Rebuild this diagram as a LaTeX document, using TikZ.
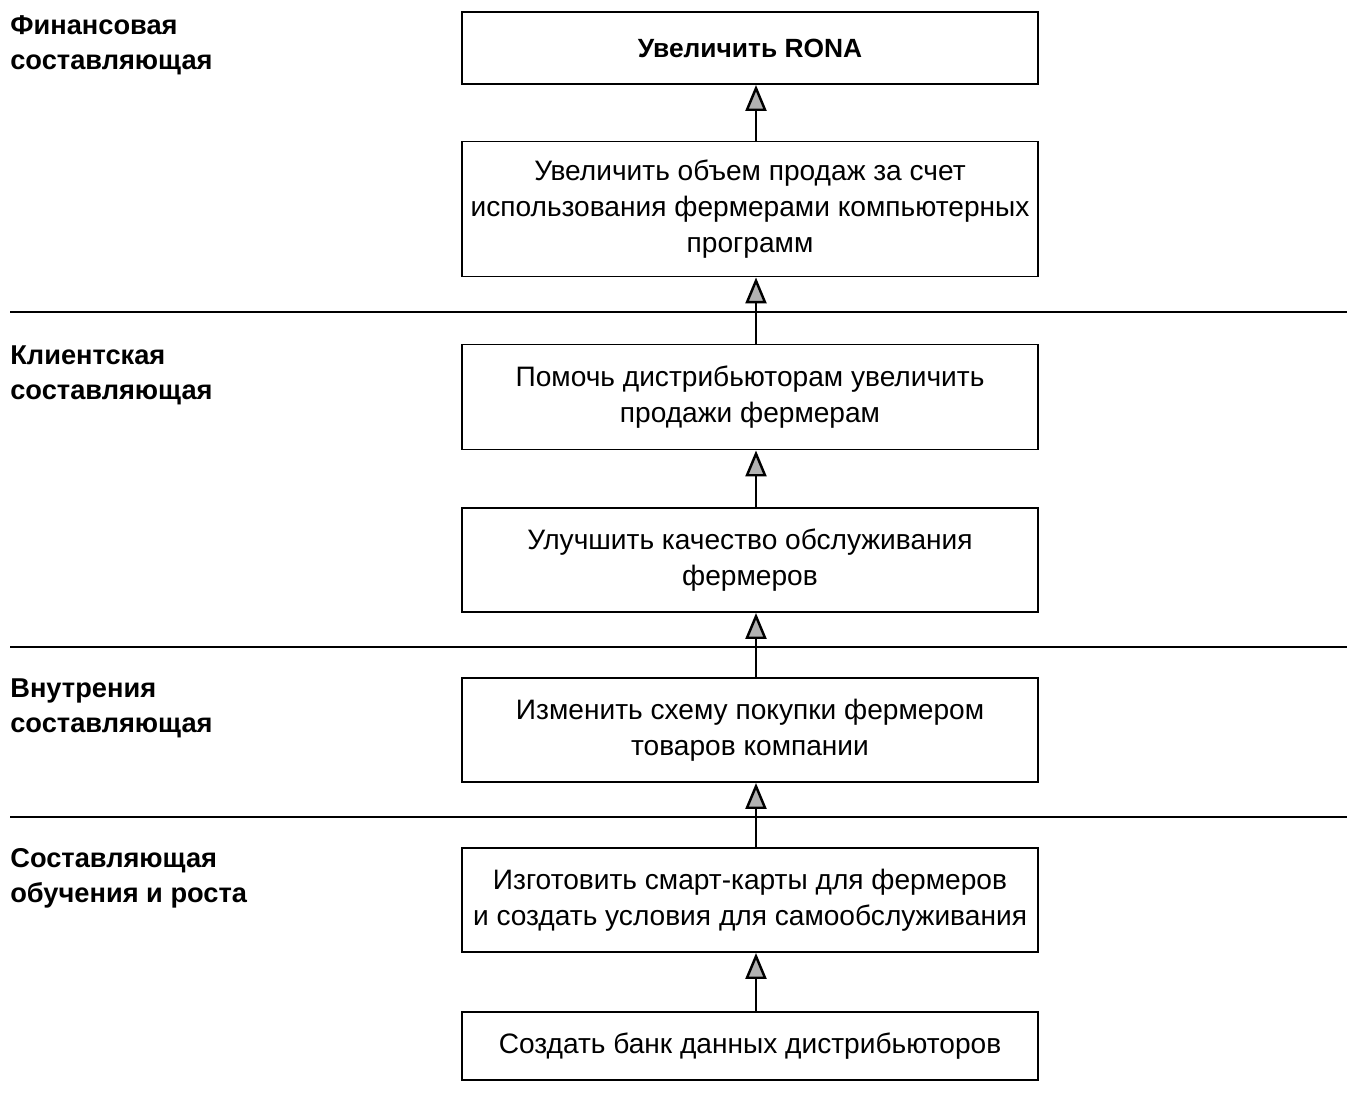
\documentclass[tikz,border=0pt]{standalone}
\usepackage{fontspec}
\setmainfont{Liberation Sans}
\usetikzlibrary{positioning, arrows.meta}

\tikzset{
  goal/.style={draw, line width=1.1pt, minimum width=11.52cm, align=center,
    inner sep=2pt, font=\fontsize{16}{20.5}\selectfont},
  persp/.style={anchor=north west, align=left, inner sep=0pt,
    font=\bfseries\fontsize{15.5}{20}\selectfont},
  link/.style={line width=1.4pt, -{Triangle[open, length=0.52cm, width=0.42cm, fill=gray!60]}},
  border/.style={line width=1pt}
}

\begin{document}
\begin{tikzpicture}[x=0.02cm, y=-0.02cm]
    \useasboundingbox (0,0) rectangle (1347,1110);

    % Perspective borders
    \foreach \y in {312, 647, 817} {
      \draw[border] (10,\y) -- (1347,\y);
    }

    % Perspective names
    \node[persp] (fin) at (10,15) {Финансовая\\составляющая};
    \node[persp] (cli) at (10,345) {Клиентская\\составляющая};
    \node[persp] (int) at (10,678) {Внутрения\\составляющая};
    \node[persp] (lrn) at (10,848) {Составляющая\\обучения и роста};

    % Goals
    \node[goal, minimum height=1.44cm, font=\bfseries\fontsize{15}{20.5}\selectfont] (rona) at (750,48) {Увеличить RONA};
    \node[goal, minimum height=2.7cm] (sales) at (750,209) {Увеличить объем продаж за счет\\использования фермерами компьютерных\\программ};
    \node[goal, minimum height=2.1cm] (help) at (750,397) {Помочь дистрибьюторам увеличить\\продажи фермерам};
    \node[goal, minimum height=2.08cm] (service) at (750,560) {Улучшить качество обслуживания\\фермеров};
    \node[goal, minimum height=2.08cm] (scheme) at (750,730) {Изменить схему покупки фермером\\товаров компании};
    \node[goal, minimum height=2.08cm] (cards) at (750,900) {Изготовить смарт-карты для фермеров\\и создать условия для самообслуживания};
    \node[goal, minimum height=1.36cm] (bank) at (750,1046) {Создать банк данных дистрибьюторов};

    % Links
    \draw[link] ([xshift=0.12cm]sales.north) -- ([xshift=0.12cm]rona.south);
    \draw[link] ([xshift=0.12cm]help.north) -- ([xshift=0.12cm]sales.south);
    \draw[link] ([xshift=0.12cm]service.north) -- ([xshift=0.12cm]help.south);
    \draw[link] ([xshift=0.12cm]scheme.north) -- ([xshift=0.12cm]service.south);
    \draw[link] ([xshift=0.12cm]cards.north) -- ([xshift=0.12cm]scheme.south);
    \draw[link] ([xshift=0.12cm]bank.north) -- ([xshift=0.12cm]cards.south);
\end{tikzpicture}
\end{document}
